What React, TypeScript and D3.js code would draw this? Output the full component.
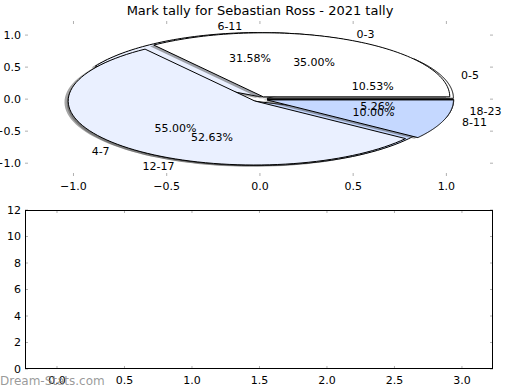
import * as d3 from "d3";

// outer pie (drawn last) and inner pie (drawn first, underneath)
const hoursA = ["0-3", "4-7", "8-11"];
const countsA = [7, 11, 2];
const hoursB = ["0-5", "6-11", "12-17", "18-23"];
const countsB = [2, 6, 10, 1];

const pieXTicks = [-1.0, -0.5, 0.0, 0.5, 1.0];
const pieYTicks = [1.0, 0.5, 0.0, -0.5, -1.0];
const barXTicks = [0.0, 0.5, 1.0, 1.5, 2.0, 2.5, 3.0];
const barYTicks = [0, 2, 4, 6, 8, 10, 12];

const wedgeColors = ["#ffffff", "#eaf0ff", "#c5d8ff"];
const EXPLODE = 0.04;
const W = 520;
const H = 390;
const FONT = "DejaVu Sans, sans-serif";
const fmt = (v: number) => d3.format(".1f")(v).replace("-", "\u2212");

const xTop = d3.scaleLinear().domain([-1.26, 1.25]).range([25, 493]);
const yTop = d3.scaleLinear().domain([-1.2, 1.22]).range([176, 21]);
const xBot = d3.scaleLinear().domain([-0.237, 3.23]).range([25, 493]);
const yBot = d3.scaleLinear().domain([0, 12]).range([369, 210]);

const line = d3
  .line<[number, number]>()
  .x((d) => xTop(d[0]))
  .y((d) => yTop(d[1]));

// matplotlib style pie: starts at 3 o'clock, counter-clockwise
const pie = d3
  .pie<number>()
  .sort(null)
  .startAngle(Math.PI / 2)
  .endAngle(Math.PI / 2 - 2 * Math.PI);

function wedgeGeom(values: number[], labels: string[]) {
  const total = d3.sum(values);
  return pie(values).map((a, i) => {
    const mid = (a.startAngle + a.endAngle) / 2;
    const cx = EXPLODE * Math.sin(mid);
    const cy = EXPLODE * Math.cos(mid);
    const pts: [number, number][] = [[cx, cy]];
    const n = 80;
    for (let k = 0; k <= n; k++) {
      const t = a.startAngle + ((a.endAngle - a.startAngle) * k) / n;
      pts.push([cx + Math.sin(t), cy + Math.cos(t)]);
    }
    pts.push([cx, cy]);
    const lx = cx + 1.1 * Math.sin(mid);
    const ly = cy + 1.1 * Math.cos(mid);
    return {
      pts,
      color: wedgeColors[i % wedgeColors.length],
      label: labels[i],
      lx,
      ly,
      px: cx + 0.6 * Math.sin(mid),
      py: cy + 0.6 * Math.cos(mid),
      pct: d3.format(".2f")((values[i] / total) * 100) + "%",
    };
  });
}

function PieLayer({ values, labels }: { values: number[]; labels: string[] }) {
  const wedges = wedgeGeom(values, labels);
  return (
    <g>
      {wedges.map((w, i) => (
        <path
          key={"s" + i}
          d={line(w.pts.map((p) => [p[0] - 0.02, p[1] - 0.02] as [number, number])) || ""}
          fill="#4d4d4d"
          fillOpacity={0.5}
          stroke="none"
        />
      ))}
      {wedges.map((w, i) => (
        <path key={"w" + i} d={line(w.pts) || ""} fill={w.color} stroke="#000" strokeWidth={1} strokeLinejoin="round" />
      ))}
    </g>
  );
}

function PieTexts({ values, labels }: { values: number[]; labels: string[] }) {
  const wedges = wedgeGeom(values, labels);
  return (
    <g fontFamily={FONT} fontSize={11} fill="#000">
      {wedges.map((w, i) => (
        <g key={i}>
          <text x={xTop(w.lx)} y={yTop(w.ly)} dy="0.35em" textAnchor={w.lx > 0 ? "start" : "end"}>
            {w.label}
          </text>
          <text x={xTop(w.px)} y={yTop(w.py)} dy="0.35em" textAnchor="middle">
            {w.pct}
          </text>
        </g>
      ))}
    </g>
  );
}

export default function App() {
  const tickColor = "#b0b0b0";
  return (
    <svg width={W} height={H} style={{ position: "absolute", left: 0, top: 0, background: "#fff" }}>
      <text x={260} y={10} dy="0.35em" textAnchor="middle" fontFamily={FONT} fontSize={13}>
        Mark tally for Sebastian Ross - 2021 tally
      </text>

      {/* top axes: pie, no frame */}
      <g>
        {pieXTicks.map((t) => (
          <g key={"xt" + t}>
            <line x1={xTop(t)} x2={xTop(t)} y1={21} y2={24} stroke={tickColor} />
            <line x1={xTop(t)} x2={xTop(t)} y1={173} y2={176} stroke={tickColor} />
            <text x={xTop(t)} y={186} dy="0.35em" textAnchor="middle" fontFamily={FONT} fontSize={11}>
              {fmt(t)}
            </text>
          </g>
        ))}
        {pieYTicks.map((t) => (
          <g key={"yt" + t}>
            <line x1={25} x2={28} y1={yTop(t)} y2={yTop(t)} stroke={tickColor} />
            <line x1={490} x2={493} y1={yTop(t)} y2={yTop(t)} stroke={tickColor} />
            <text x={21} y={yTop(t)} dy="0.35em" textAnchor="end" fontFamily={FONT} fontSize={11}>
              {fmt(t)}
            </text>
          </g>
        ))}
      </g>
      <PieLayer values={countsB} labels={hoursB} />
      <PieLayer values={countsA} labels={hoursA} />
      <PieTexts values={countsB} labels={hoursB} />
      <PieTexts values={countsA} labels={hoursA} />

      {/* bottom axes: empty */}
      <g>
        {barXTicks.map((t) => (
          <g key={"bx" + t}>
            <line x1={xBot(t)} x2={xBot(t)} y1={210} y2={213} stroke={tickColor} />
            <line x1={xBot(t)} x2={xBot(t)} y1={366} y2={369} stroke={tickColor} />
            <text x={xBot(t)} y={380} dy="0.35em" textAnchor="middle" fontFamily={FONT} fontSize={11}>
              {fmt(t)}
            </text>
          </g>
        ))}
        {barYTicks.map((t) => (
          <g key={"by" + t}>
            <line x1={25} x2={28} y1={yBot(t)} y2={yBot(t)} stroke={tickColor} />
            <line x1={490} x2={493} y1={yBot(t)} y2={yBot(t)} stroke={tickColor} />
            <text x={21} y={yBot(t)} dy="0.35em" textAnchor="end" fontFamily={FONT} fontSize={11}>
              {t}
            </text>
          </g>
        ))}
        <rect x={25.5} y={210.5} width={467} height={158} fill="none" stroke="#000" strokeWidth={1} />
      </g>

      <text x={0} y={385} fontFamily={FONT} fontSize={12} fill="#888" fillOpacity={0.85}>
        Dream-Stats.com
      </text>
    </svg>
  );
}
